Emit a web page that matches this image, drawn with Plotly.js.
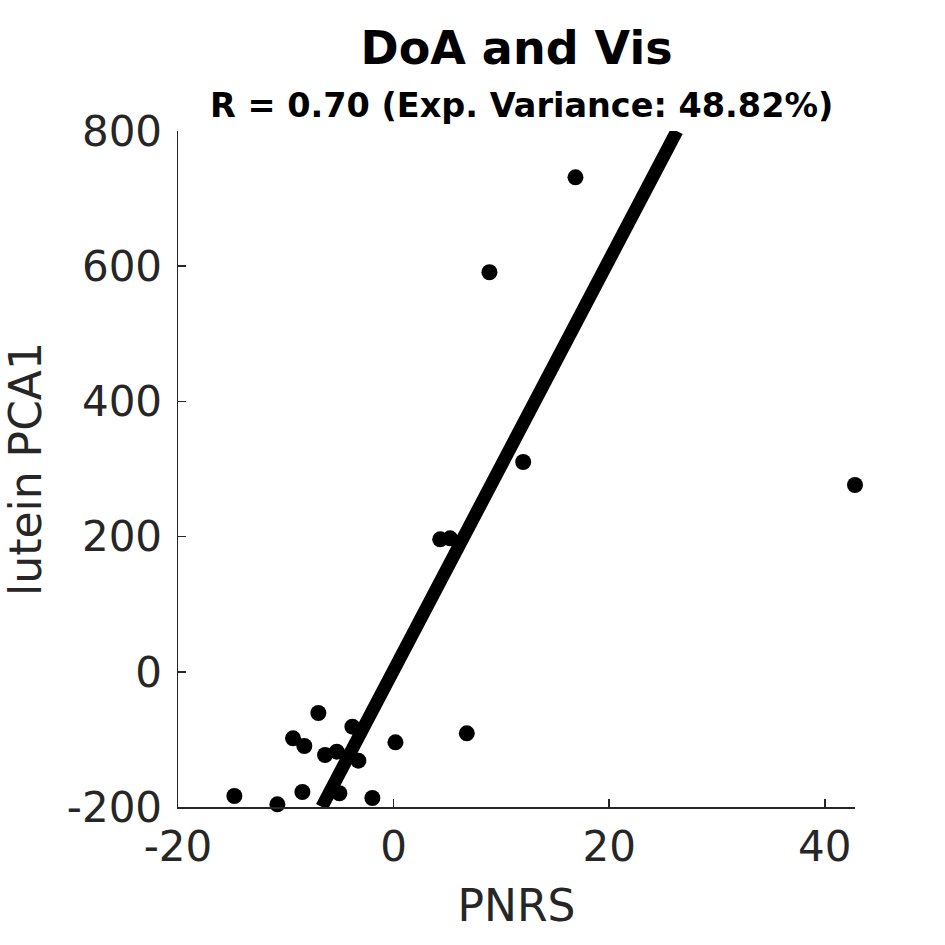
<!DOCTYPE html>
<html>
<head>
<meta charset="utf-8">
<script src="https://cdn.plot.ly/plotly-3.0.1.min.js"></script>
<style>html,body{margin:0;padding:0;background:#fff;}#chart{width:945px;height:945px;}</style>
</head>
<body>
<div id="chart"></div>
<script>
// PNRS (x) vs lutein PCA1 (y)
const pnrs = [-14.77, -10.78, -8.46, -9.33, -8.28, -6.98, -6.36, -5.27, -3.82, -3.27,
              -5.03, -1.97, 0.17, 6.79, 4.32, 5.24, 12.02, 8.89, 16.87, 42.80];
const luteinPCA1 = [-183.7, -196.0, -177.8, -98.4, -109.8, -60.9, -123.1, -118.2, -81.2, -131.5,
                    -179.7, -186.7, -104.3, -91.0, 196.0, 197.5, 310.4, 591.0, 731.5, 276.3];
// regression line endpoints
const fitX = [-6.66, 26.28];
const fitY = [-200, 800];
const xTicks = [-20, 0, 20, 40];
const yTicks = [-200, 0, 200, 400, 600, 800];
const titleText = "DoA and Vis";
const subtitleText = "R = 0.70 (Exp. Variance: 48.82%)";

const axisColor = "#262626";
const font = "DejaVu Sans, sans-serif";

const traces = [
  {
    x: pnrs, y: luteinPCA1, type: "scatter", mode: "markers",
    marker: {color: "#000", size: 16},
    cliponaxis: false, hoverinfo: "skip"
  },
  {
    x: fitX, y: fitY, type: "scatter", mode: "lines",
    line: {color: "#000", width: 13},
    cliponaxis: true, hoverinfo: "skip"
  }
];

const layout = {
  width: 945, height: 945,
  paper_bgcolor: "#fff", plot_bgcolor: "#fff",
  margin: {l: 178, r: 90, t: 131, b: 138},
  showlegend: false,
  font: {family: font, color: axisColor},
  title: {
    text: "<b>" + titleText + "</b>",
    font: {family: font, size: 46, color: "#000"},
    x: 0.5, xref: "paper", xanchor: "center",
    y: 1 - 48/945, yref: "container", yanchor: "middle"
  },
  annotations: [{
    text: "<b>" + subtitleText + "</b>",
    xref: "paper", yref: "paper", x: 0.5, y: (807 - 106) / 676,
    xanchor: "center", yanchor: "middle", showarrow: false, xshift: 5,
    font: {family: font, size: 33.5, color: "#000"}
  }],
  xaxis: {
    range: [-20, 42.8], tickvals: xTicks, ticktext: xTicks.map(String),
    showgrid: false, zeroline: false,
    showline: true, linecolor: axisColor, linewidth: 1.5,
    ticks: "inside", ticklen: 8, tickwidth: 1.5, tickcolor: axisColor,
    tickfont: {family: font, size: 42, color: axisColor},
    ticklabelstandoff: 2,
    title: {text: "PNRS", font: {family: font, size: 44, color: axisColor}, standoff: 20},
    automargin: false, fixedrange: true
  },
  yaxis: {
    range: [-200, 800], tickvals: yTicks, ticktext: yTicks.map(String),
    showgrid: false, zeroline: false,
    showline: true, linecolor: axisColor, linewidth: 1.5,
    ticks: "inside", ticklen: 8, tickwidth: 1.5, tickcolor: axisColor,
    tickfont: {family: font, size: 42, color: axisColor},
    ticklabelstandoff: 6,
    title: {text: "lutein PCA1", font: {family: font, size: 44, color: axisColor}, standoff: 14},
    automargin: false, fixedrange: true
  }
};

Plotly.newPlot("chart", traces, layout, {staticPlot: true, displayModeBar: false});
</script>
</body>
</html>
